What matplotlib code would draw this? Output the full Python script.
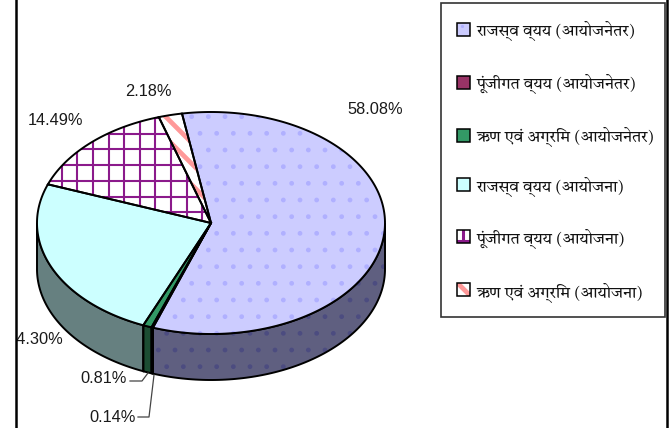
import numpy as np
import matplotlib
matplotlib.use("Agg")
import matplotlib.pyplot as plt
from matplotlib.patches import Polygon, Rectangle

categories = ["राजस्व व्यय (आयोजनेतर)", "पूंजीगत व्यय (आयोजनेतर)", "ऋण एवं अग्रिम (आयोजनेतर)",
              "राजस्व व्यय (आयोजना)", "पूंजीगत व्यय (आयोजना)", "ऋण एवं अग्रिम (आयोजना)"]
values = [58.08, 0.14, 0.81, 24.30, 14.49, 2.18]
value_labels = ["58.08%", "0.14%", "0.81%", "24.30%", "14.49%", "2.18%"]
top_colors = ["#CCCCFF", "#993366", "#339966", "#CCFFFF", "#FFFFFF", "#FFFFFF"]
side_colors = ["#5F5F80", "#4A1A33", "#1C4D33", "#668080", "#4D1A4D", "#805050"]
DOTS, GRID, STRIPE = 0, 4, 5

W, H = 669, 428
fig = plt.figure(figsize=(W/100, H/100), dpi=100, facecolor="white")
fams = ["Tiro Devanagari Hindi", "FreeSerif", "DejaVu Sans"]

cx, cy, rx, ry, depth = 211, 223, 174, 111, 46
ax = fig.add_axes([17/W, 0, (667-17)/W, 1])
ax.set_xlim(17, 667); ax.set_ylim(428, 0); ax.axis("off")
plt.rcParams["hatch.linewidth"] = 1.0

start = -9.6
fr = np.array(values)/sum(values)
edges = start + 360*np.concatenate([[0], np.cumsum(fr)])

def pt(t):
    t = np.radians(t)
    return cx + rx*np.sin(t), cy - ry*np.cos(t)

def stripes(patch, offsets, lw, z):
    for c in offsets:
        ln, = ax.plot([0, 700], [c, 700+c], color="#FF9999", lw=lw, zorder=z, solid_capstyle="butt")
        ln.set_clip_path(patch)

def grid(patch, xs, ys, lw, z):
    for x in xs:
        ln, = ax.plot([x, x], [0, 428], color="#8B1A8B", lw=lw, zorder=z, solid_capstyle="butt")
        ln.set_clip_path(patch)
    for y in ys:
        ln, = ax.plot([0, 667], [y, y], color="#8B1A8B", lw=lw, zorder=z, solid_capstyle="butt")
        ln.set_clip_path(patch)

# side walls (front half only)
for i in range(len(values)):
    a, b = max(edges[i], 90), min(edges[i+1], 270)
    if b <= a:
        continue
    t = np.linspace(a, b, 100)
    x, y = pt(t)
    xy = np.r_[np.c_[x, y], np.c_[x[::-1], y[::-1]+depth]]
    ax.add_patch(Polygon(xy, closed=True, fc=side_colors[i], ec="none", zorder=2))
    if i == DOTS:
        ax.add_patch(Polygon(xy, closed=True, fc="none", ec="#4C4C80", hatch=".", lw=0, zorder=2.1))
    ax.add_patch(Polygon(xy, closed=True, fc="none", ec="black", lw=1.4, zorder=2.2))

# top wedges
for i in range(len(values)):
    t = np.linspace(edges[i], edges[i+1], 200)
    x, y = pt(t)
    xy = np.r_[[[cx, cy]], np.c_[x, y]]
    p = ax.add_patch(Polygon(xy, closed=True, fc=top_colors[i], ec="none", zorder=3))
    if i == DOTS:
        ax.add_patch(Polygon(xy, closed=True, fc="none", ec="#B0B0FF", hatch=".", lw=0, zorder=3.1))
    if i == GRID:
        grid(p, 46.1 + 15.6*np.arange(11), 118 + 15.7*np.arange(7), 1.5, 3.1)
    if i == STRIPE:
        stripes(p, [-49, -28, -7, 14], 3.4, 3.1)
    ax.add_patch(Polygon(xy, closed=True, fc="none", ec="black", lw=1.4, zorder=3.2))

# value labels
lab_pos = [(375.5, 109), (112.5, 417), (104, 378.5), (35, 339), (55.5, 120), (148, 91)]
for s, (x, y) in zip(value_labels, lab_pos):
    ax.text(x, y, s, ha="center", va="center", fontsize=11.8, color="#1a1a1a",
            family=["Liberation Sans"], clip_on=True, zorder=6)

ax.plot([130, 142, 148], [381, 381, 373], color="#444444", lw=0.9, zorder=4)
ax.plot([138, 149, 154], [417, 417, 375], color="#444444", lw=0.9, zorder=4)

# legend box and entries
ax.add_patch(Rectangle((440.5, 2.5), 224.5, 314, fc="white", ec="#333333", lw=1.2, zorder=1))
swatch_y = [29, 82, 135, 184, 236, 289]
text_y = [30, 83, 136, 186, 238, 292]
for i, (c, y, ty) in enumerate(zip(categories, swatch_y, text_y)):
    xy0 = (457, y-6.5)
    p = ax.add_patch(Rectangle(xy0, 13, 13, fc=top_colors[i], ec="none", zorder=5))
    if i == DOTS:
        ax.plot([462], [y-3], ".", ms=2.5, color="#B0B0FF", zorder=5.1)
    if i == GRID:
        grid(p, [xy0[0]+5.5], [xy0[1]+11.5], 2.2, 5.1)
    if i == STRIPE:
        stripes(p, [xy0[1]-xy0[0]], 3.4, 5.1)
    ax.add_patch(Rectangle(xy0, 13, 13, fc="none", ec="black", lw=1.1, zorder=5.2))
    ax.text(476, ty, c, ha="left", va="center", fontsize=11.6, color="#111111", family=fams, zorder=6)

# frame: left and right only
ax.plot([16.2, 16.2], [0, 428], color="black", lw=1.8, clip_on=False, zorder=7)
ax.plot([667, 667], [0, 428], color="black", lw=1.8, clip_on=False, zorder=7)

fig.savefig("out.png", dpi=100)
